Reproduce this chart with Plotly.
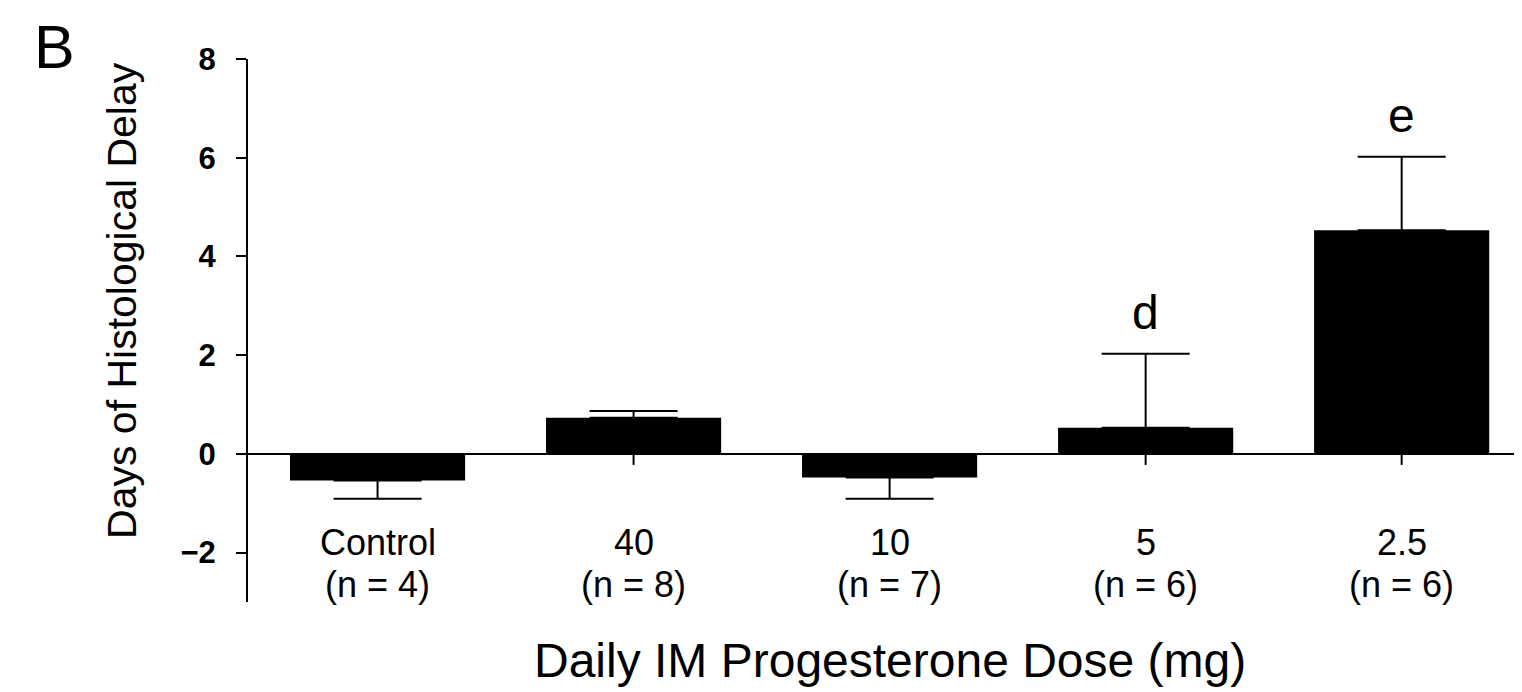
import plotly.graph_objects as go

categories = ["Control", "40", "10", "5", "2.5"]
n_labels = ["(n = 4)", "(n = 8)", "(n = 7)", "(n = 6)", "(n = 6)"]
means = [-0.54, 0.73, -0.48, 0.53, 4.53]
errors = [0.37, 0.14, 0.43, 1.50, 1.49]
letters = ["", "", "", "d", "e"]
y_ticks = [-2, 0, 2, 4, 6, 8]

FONT = "Arial, Liberation Sans, Helvetica, sans-serif"
xs = list(range(len(categories)))

err_plus = [e if m >= 0 else 0 for m, e in zip(means, errors)]
err_minus = [e if m < 0 else 0 for m, e in zip(means, errors)]

fig = go.Figure()
fig.add_trace(go.Bar(
    x=xs, y=means, width=0.684,
    marker=dict(color="black", line=dict(width=0)),
    error_y=dict(type="data", symmetric=False, array=err_plus, arrayminus=err_minus,
                 color="black", thickness=2, width=44),
    showlegend=False,
))

# category tick marks on the zero line
for x in xs:
    fig.add_shape(type="line", xref="x", yref="y", x0=x, x1=x,
                  ysizemode="pixel", yanchor=0, y0=0, y1=-11,
                  line=dict(color="black", width=2), layer="below")

annotations = []
for x, c, nl in zip(xs, categories, n_labels):
    annotations.append(dict(x=x, y=-1.80, xref="x", yref="y", text=c, showarrow=False,
                            font=dict(family=FONT, size=36, color="black"),
                            xanchor="center", yanchor="middle"))
    annotations.append(dict(x=x, y=-2.65, xref="x", yref="y", text=nl, showarrow=False,
                            font=dict(family=FONT, size=36, color="black"),
                            xanchor="center", yanchor="middle"))
for x, m, e, l in zip(xs, means, errors, letters):
    if l:
        annotations.append(dict(x=x, y=m + e, xref="x", yref="y", text=l, showarrow=False,
                                font=dict(family=FONT, size=48, color="black"),
                                xanchor="center", yanchor="bottom", yshift=13))

annotations.append(dict(x=2, y=-0.107, xref="x", yref="paper",
                        text="Daily IM Progesterone Dose (mg)", showarrow=False,
                        font=dict(family=FONT, size=48, color="black"),
                        xanchor="center", yanchor="middle"))
annotations.append(dict(x=-0.099, y=0.556, xref="paper", yref="paper",
                        text="Days of Histological Delay", showarrow=False, textangle=-90,
                        font=dict(family=FONT, size=41, color="black"),
                        xanchor="center", yanchor="middle"))
annotations.append(dict(x=-0.1515, y=1.0221, xref="paper", yref="paper",
                        text="B", showarrow=False,
                        font=dict(family=FONT, size=61, color="black"),
                        xanchor="center", yanchor="middle"))

# page body has an 8px default margin, so the figure is offset by 8px
fig.update_layout(
    width=1514, height=684,
    margin=dict(l=240, r=0, t=51, b=90),
    paper_bgcolor="white", plot_bgcolor="white",
    annotations=annotations,
    xaxis=dict(range=[-0.506, 4.47], showticklabels=False, showline=False,
               showgrid=False, zeroline=False, ticks=""),
    yaxis=dict(range=[-3, 8], tickvals=y_ticks, ticks="outside", ticklen=10,
               tickwidth=2, tickcolor="black", showline=True, linecolor="black",
               linewidth=2, showgrid=False, zeroline=True, zerolinecolor="black",
               zerolinewidth=2, ticklabelstandoff=14,
               tickfont=dict(family=FONT, size=31, color="black", weight="bold")),
)

fig.write_html("out.html")
